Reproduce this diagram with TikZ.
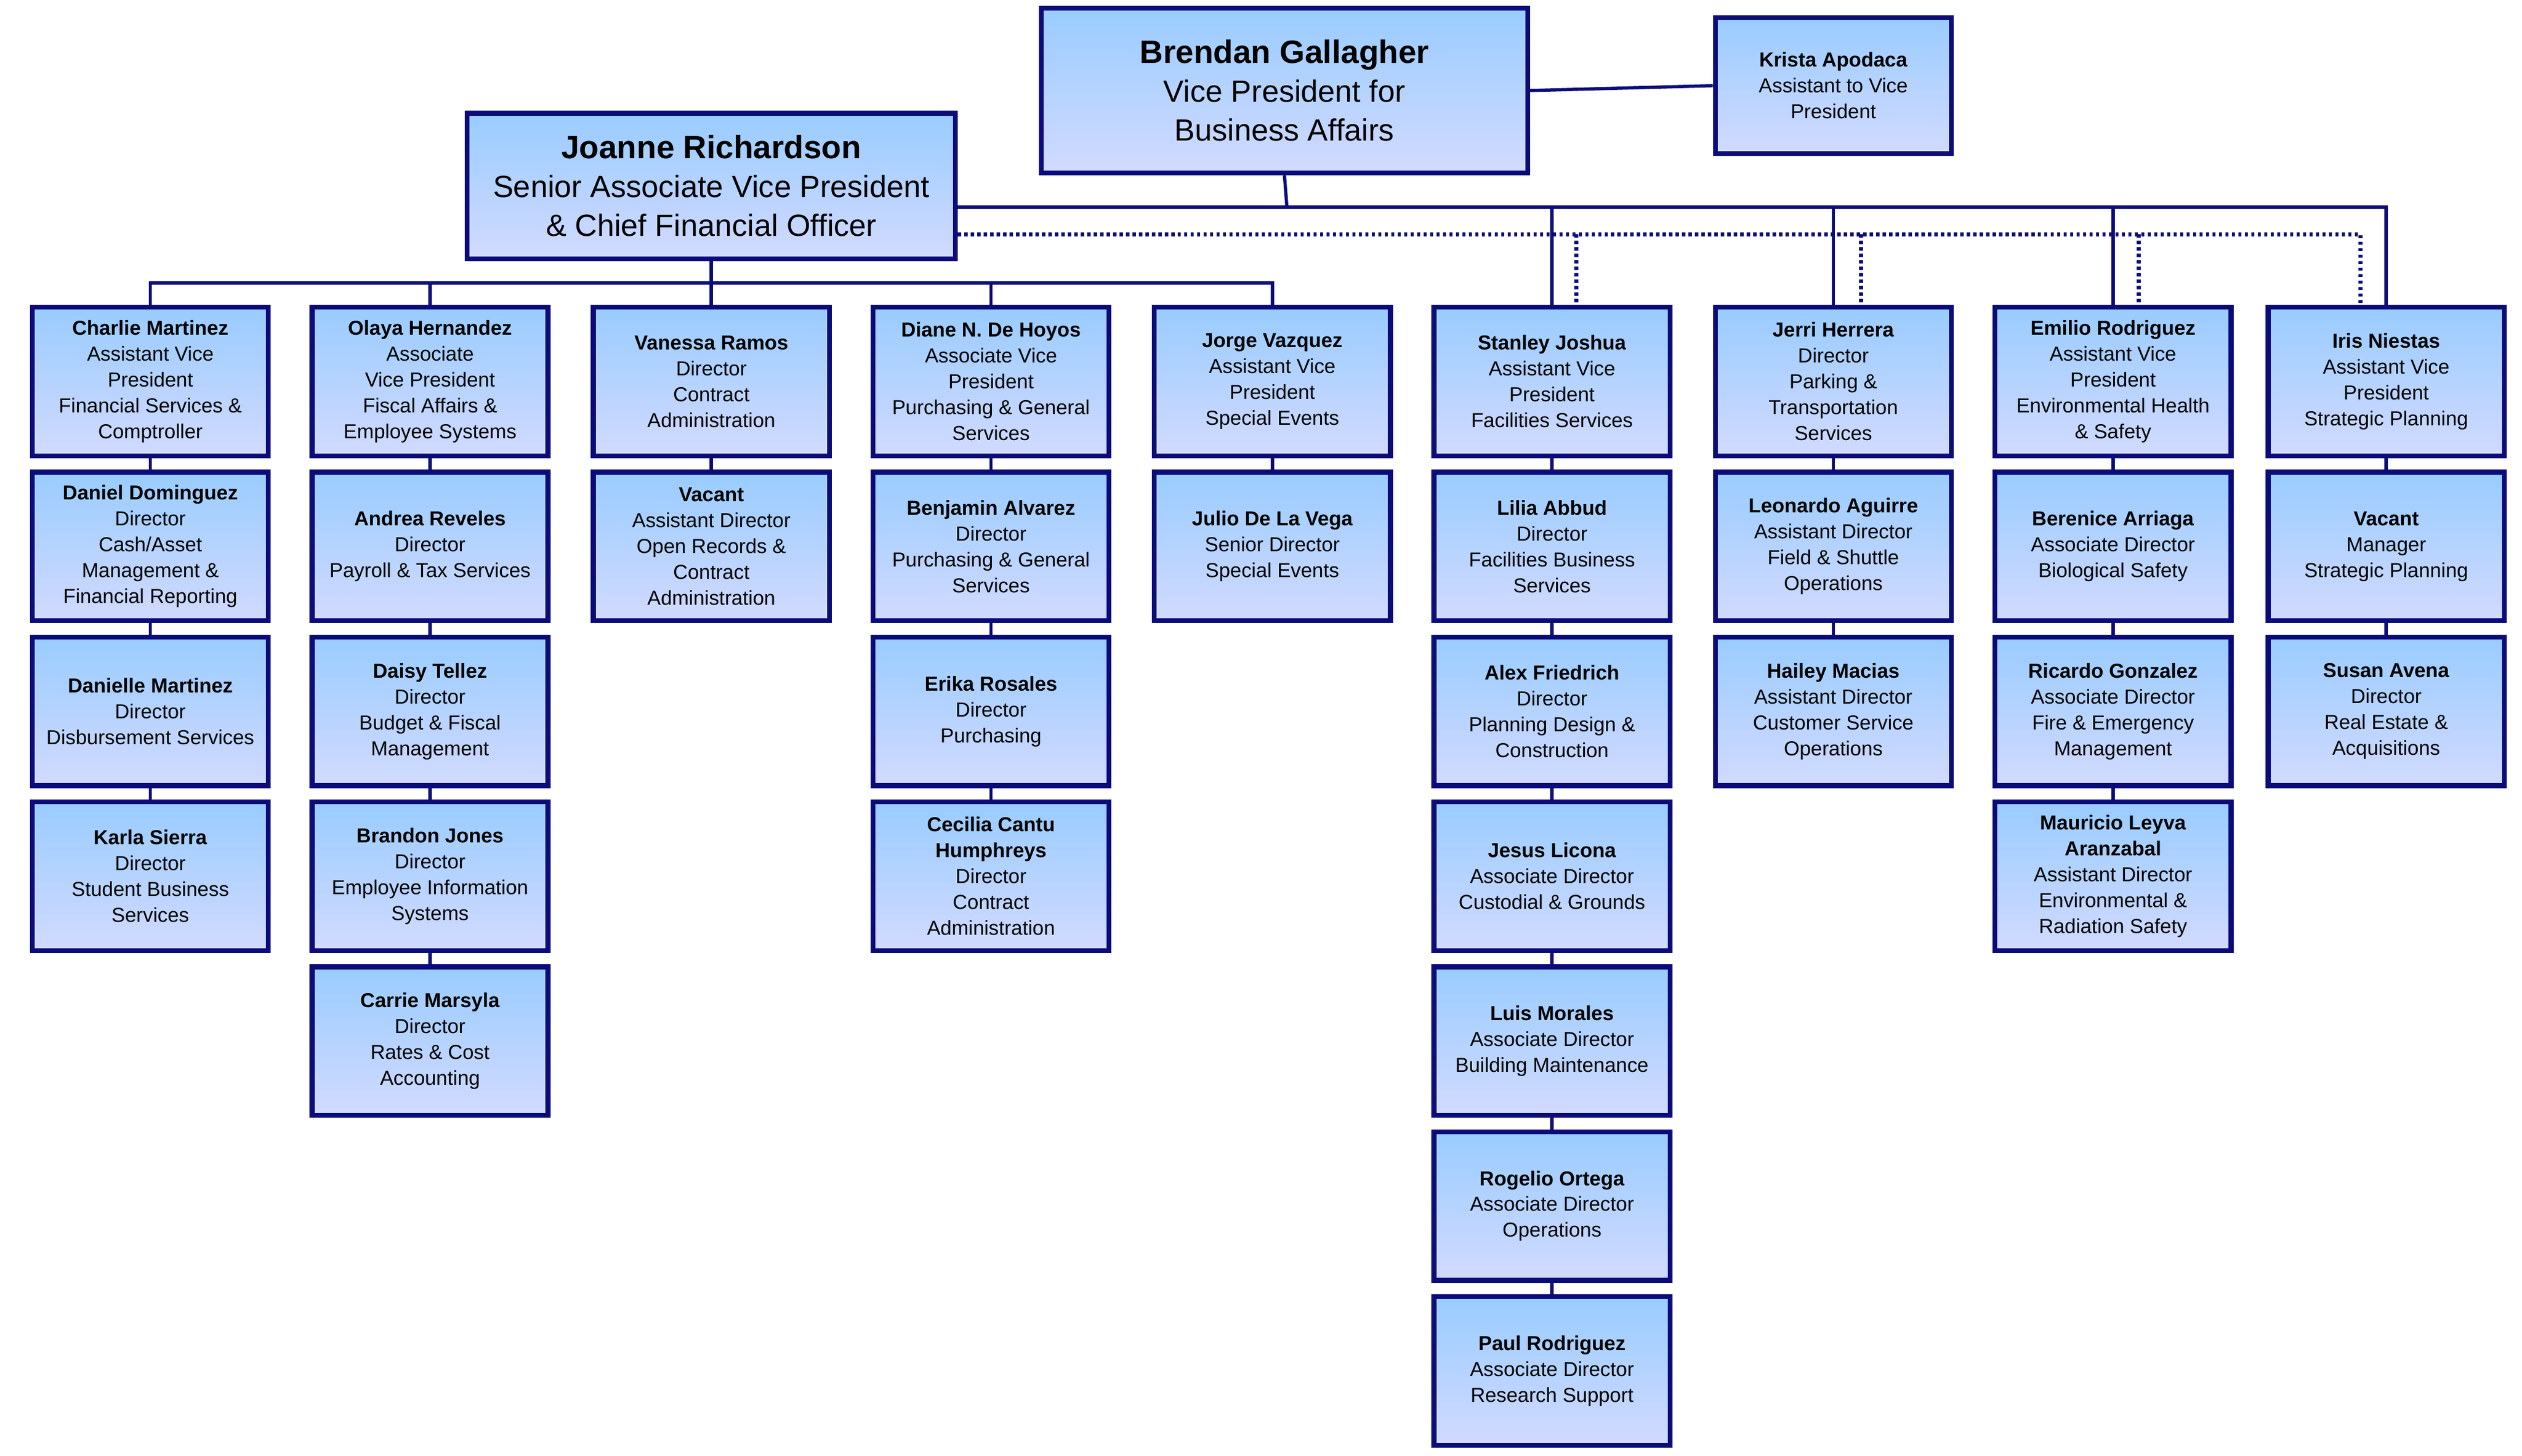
\documentclass[tikz,border=0pt]{standalone}
\usepackage{fontspec}
\setmainfont{Liberation Sans}
\begin{document}
\begin{tikzpicture}[x=1pt,y=-1pt,
 box/.style={draw=navy,line width=3pt,top color=bluetop,bottom color=bluebot,minimum width=146pt,minimum height=92pt,inner sep=2pt,align=center,font=\fontsize{12.5}{16}\selectfont},
 big/.style={box,font=\fontsize{19}{24}\selectfont},
 con/.style={draw=navy,line width=2pt},
 dot/.style={draw=navy,line width=2.5pt,dash pattern=on 2pt off 2pt}]
\definecolor{navy}{HTML}{0B0B7A}
\definecolor{bluetop}{HTML}{99CCFF}
\definecolor{bluebot}{HTML}{D2DAFF}
\useasboundingbox (0,0) rectangle (1560,900.6);
\node[big,minimum width=301pt,minimum height=102pt] (bg) at (794.5,56) {\textbf{\fontsize{20}{24}\selectfont Brendan Gallagher}\\Vice President for\\Business Affairs};
\node[box,minimum height=84pt] (ka) at (1134,53) {\textbf{Krista Apodaca}\\Assistant to Vice\\President};
\node[big,minimum width=302pt,minimum height=90pt] (jr) at (440,115) {\textbf{\fontsize{20}{24}\selectfont Joanne Richardson}\\Senior Associate Vice President\\\& Chief Financial Officer};
\draw[con] (bg.east) -- (ka.west);
\newcommand\col[2]{}
% row tops
\def\ry#1{\numexpr 236+102*(#1)\relax}
\foreach \n/\x/\r/\t in {
cm/93/0/{\textbf{Charlie Martinez}\\Assistant Vice\\President\\Financial Services \&\\Comptroller},
dd/93/1/{\textbf{Daniel Dominguez}\\Director\\Cash/Asset\\Management \&\\Financial Reporting},
dm/93/2/{\textbf{Danielle Martinez}\\Director\\Disbursement Services},
ks/93/3/{\textbf{Karla Sierra}\\Director\\Student Business\\Services},
oh/266/0/{\textbf{Olaya Hernandez}\\Associate\\Vice President\\Fiscal Affairs \&\\Employee Systems},
ar/266/1/{\textbf{Andrea Reveles}\\Director\\Payroll \& Tax Services},
dt/266/2/{\textbf{Daisy Tellez}\\Director\\Budget \& Fiscal\\Management},
bj/266/3/{\textbf{Brandon Jones}\\Director\\Employee Information\\Systems},
cmy/266/4/{\textbf{Carrie Marsyla}\\Director\\Rates \& Cost\\Accounting},
vr/440/0/{\textbf{Vanessa Ramos}\\Director\\Contract\\Administration},
va/440/1/{\textbf{Vacant}\\Assistant Director\\Open Records \&\\Contract\\Administration},
dh/613/0/{\textbf{Diane N. De Hoyos}\\Associate Vice\\President\\Purchasing \& General\\Services},
ba/613/1/{\textbf{Benjamin Alvarez}\\Director\\Purchasing \& General\\Services},
er/613/2/{\textbf{Erika Rosales}\\Director\\Purchasing},
cc/613/3/{\textbf{Cecilia Cantu}\\\textbf{Humphreys}\\Director\\Contract\\Administration},
jv/787/0/{\textbf{Jorge Vazquez}\\Assistant Vice\\President\\Special Events},
jd/787/1/{\textbf{Julio De La Vega}\\Senior Director\\Special Events},
sj/960/0/{\textbf{Stanley Joshua}\\Assistant Vice\\President\\Facilities Services},
la/960/1/{\textbf{Lilia Abbud}\\Director\\Facilities Business\\Services},
af/960/2/{\textbf{Alex Friedrich}\\Director\\Planning Design \&\\Construction},
jl/960/3/{\textbf{Jesus Licona}\\Associate Director\\Custodial \& Grounds},
lm/960/4/{\textbf{Luis Morales}\\Associate Director\\Building Maintenance},
ro/960/5/{\textbf{Rogelio Ortega}\\Associate Director\\Operations},
pr/960/6/{\textbf{Paul Rodriguez}\\Associate Director\\Research Support},
jh/1134/0/{\textbf{Jerri Herrera}\\Director\\Parking \&\\Transportation\\Services},
lag/1134/1/{\textbf{Leonardo Aguirre}\\Assistant Director\\Field \& Shuttle\\Operations},
hm/1134/2/{\textbf{Hailey Macias}\\Assistant Director\\Customer Service\\Operations},
erd/1307/0/{\textbf{Emilio Rodriguez}\\Assistant Vice\\President\\Environmental Health\\\& Safety},
bar/1307/1/{\textbf{Berenice Arriaga}\\Associate Director\\Biological Safety},
rg/1307/2/{\textbf{Ricardo Gonzalez}\\Associate Director\\Fire \& Emergency\\Management},
ml/1307/3/{\textbf{Mauricio Leyva}\\\textbf{Aranzabal}\\Assistant Director\\Environmental \&\\Radiation Safety},
in/1476/0/{\textbf{Iris Niestas}\\Assistant Vice\\President\\Strategic Planning},
vs/1476/1/{\textbf{Vacant}\\Manager\\Strategic Planning},
sa/1476/2/{\textbf{Susan Avena}\\Director\\Real Estate \&\\Acquisitions}}
{\node[box] (\n) at (\x,{236+102*\r}) {\t};}
% column chains
\foreach \a/\b in {cm/dd,dd/dm,dm/ks,oh/ar,ar/dt,dt/bj,bj/cmy,vr/va,dh/ba,ba/er,er/cc,jv/jd,sj/la,la/af,af/jl,jl/lm,lm/ro,ro/pr,jh/lag,lag/hm,erd/bar,bar/rg,rg/ml,in/vs,vs/sa}
 \draw[con] (\a.south) -- (\b.north);
% Joanne's children
\coordinate (jb) at (440,175);
\draw[con] (jr.south) -- (jb);
\draw[con] (cm.north) -- (cm.north |- jb) -- (jv.north |- jb) -- (jv.north);
\foreach \n in {oh,vr,dh} \draw[con] (\n.north) -- (\n.north |- jb);
% Brendan's children
\coordinate (bb) at (796,128);
\draw[con] (bg.south) -- (bb);
\draw[con] (jr.east |- bb) -- (in.north |- bb) -- (in.north);
\foreach \n in {sj,jh,erd} \draw[con] (\n.north) -- (\n.north |- bb);
% dotted
\coordinate (db) at (975,145);
\draw[dot] (jr.east |- db) -- (1460,145) -- (1460,190);
\foreach \x in {975,1151,1323} \draw[dot] (\x,145) -- (\x,190);
\end{tikzpicture}
\end{document}
